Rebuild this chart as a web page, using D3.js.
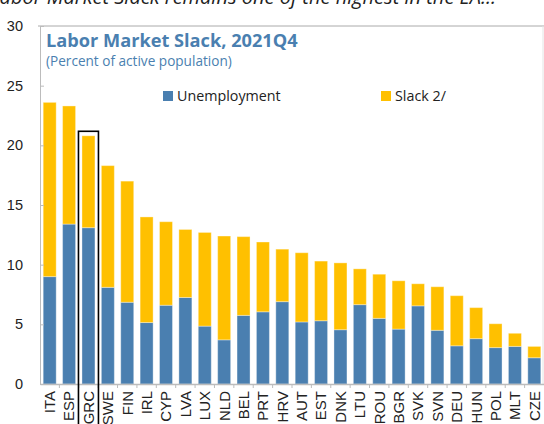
<!doctype html>
<meta charset="utf-8">
<title>Labor Market Slack</title>
<style>
body { margin: 0; background: #fff; }
svg { display: block; font-family: "Open Sans", "Noto Sans", sans-serif; }
.axis text { font-size: 14.5px; fill: #222; }
.axis path, .axis line { stroke: #bcbcbc; }
</style>
<script src="https://d3js.org/d3.v7.min.js"></script>
<body>
<script>
var width = 544, height = 424;

// data
var countries = ["ITA","ESP","GRC","SWE","FIN","IRL","CYP","LVA","LUX","NLD","BEL","PRT","HRV",
                 "AUT","EST","DNK","LTU","ROU","BGR","SVK","SVN","DEU","HUN","POL","MLT","CZE"];
var unemployment = [9.0,13.4,13.1,8.1,6.85,5.15,6.6,7.25,4.85,3.7,5.75,6.05,6.9,
                    5.2,5.3,4.55,6.65,5.5,4.6,6.55,4.5,3.2,3.8,3.05,3.15,2.2];
var total = [23.6,23.3,20.8,18.3,17.0,14.0,13.6,12.95,12.7,12.4,12.35,11.9,11.3,
             11.0,10.3,10.15,9.65,9.2,8.65,8.4,8.15,7.4,6.4,5.05,4.25,3.15];
var slack = total.map(function(t, i) { return +(t - unemployment[i]).toFixed(2); });
var yTicks = [0,5,10,15,20,25,30];
var highlight = "GRC";

var svg = d3.select("body").append("svg")
    .attr("width", width)
    .attr("height", height);

var x = d3.scaleBand()
    .domain(countries)
    .range([40, 544])
    .paddingInner(0.33)
    .paddingOuter(0.165);

var y = d3.scaleLinear()
    .domain([0, 30])
    .range([384, 26]);

// headline above the chart (cut off by the top edge, as in the source)
svg.append("text")
    .attr("x", -10)
    .attr("y", 4)
    .style("font-size", "20px")
    .style("font-style", "italic")
    .style("fill", "#222")
    .text("Labor Market Slack remains one of the highest in the EA...");

// frame
svg.append("line").attr("x1", 38).attr("x2", 544).attr("y1", y(30)).attr("y2", y(30))
    .style("stroke", "#aaa");
svg.append("line").attr("x1", 543).attr("x2", 543).attr("y1", y(30)).attr("y2", y(0))
    .style("stroke", "#e4e4e4");

// bars
var rows = countries.map(function(c, i) {
  return { c: c, u: unemployment[i], s: slack[i] };
});
var stack = d3.stack().keys(["u", "s"])(rows);
var colors = { u: "#4a7fb0", s: "#ffc000" };

svg.append("g").selectAll("g")
    .data(stack)
  .enter().append("g")
    .style("fill", function(d) { return colors[d.key]; })
  .selectAll("rect")
    .data(function(d) { return d; })
  .enter().append("rect")
    .attr("x", function(d) { return x(d.data.c); })
    .attr("width", x.bandwidth())
    .attr("y", function(d) { return y(d[1]); })
    .attr("height", function(d) { return y(d[0]) - y(d[1]); })
    .style("stroke", "rgba(255,255,255,0.35)")
    .style("stroke-width", 1);

// axes
var yAxis = svg.append("g")
    .attr("class", "axis")
    .attr("transform", "translate(40,0)")
    .call(d3.axisLeft(y).tickValues(yTicks).tickSize(-4).tickPadding(17).tickSizeOuter(0));
yAxis.select(".domain").style("stroke", "#bcbcbc");

var xAxis = svg.append("g")
    .attr("class", "axis")
    .attr("transform", "translate(0," + y(0) + ")")
    .call(d3.axisBottom(x).tickSize(0).tickSizeOuter(0));
xAxis.selectAll("text")
    .attr("transform", "rotate(-90)")
    .attr("x", -7)
    .attr("y", 0)
    .attr("dy", "0.36em")
    .style("font-size", "15px")
    .style("text-anchor", "end");
xAxis.select(".domain").style("stroke", "#bcbcbc").style("stroke-width", 1.5);

// small ticks between categories
svg.append("g").selectAll("line")
    .data(countries.slice(0, -1))
  .enter().append("line")
    .attr("x1", function(d) { return x(d) + x.bandwidth() + (x.step() - x.bandwidth()) / 2; })
    .attr("x2", function(d) { return x(d) + x.bandwidth() + (x.step() - x.bandwidth()) / 2; })
    .attr("y1", y(0))
    .attr("y2", y(0) + 4)
    .style("stroke", "#bcbcbc");

// highlight box around GRC
var hi = countries.indexOf(highlight);
svg.append("rect")
    .attr("x", x(highlight) - 3.5)
    .attr("y", y(total[hi]) - 4.5)
    .attr("width", x.bandwidth() + 7)
    .attr("height", height - y(total[hi]) + 10)
    .style("fill", "none")
    .style("stroke", "#000")
    .style("stroke-width", 1.6);

// title
svg.append("text")
    .attr("x", 46)
    .attr("y", 47)
    .style("font-size", "18.2px")
    .style("font-weight", "bold")
    .style("fill", "#4a7fb0")
    .text("Labor Market Slack, 2021Q4");
svg.append("text")
    .attr("x", 46)
    .attr("y", 66)
    .style("font-size", "13.6px")
    .style("fill", "#4a7fb0")
    .text("(Percent of active population)");

// legend
var legend = svg.append("g");
var legendItems = [
  { key: "u", label: "Unemployment", x: 163 },
  { key: "s", label: "Slack 2/", x: 381 }
];
legend.selectAll("rect")
    .data(legendItems)
  .enter().append("rect")
    .attr("x", function(d) { return d.x; })
    .attr("y", 91)
    .attr("width", 10)
    .attr("height", 10)
    .style("fill", function(d) { return colors[d.key]; });
legend.selectAll("text")
    .data(legendItems)
  .enter().append("text")
    .attr("x", function(d) { return d.x + 14; })
    .attr("y", 101)
    .style("font-size", "14.3px")
    .style("fill", "#222")
    .text(function(d) { return d.label; });
</script>
